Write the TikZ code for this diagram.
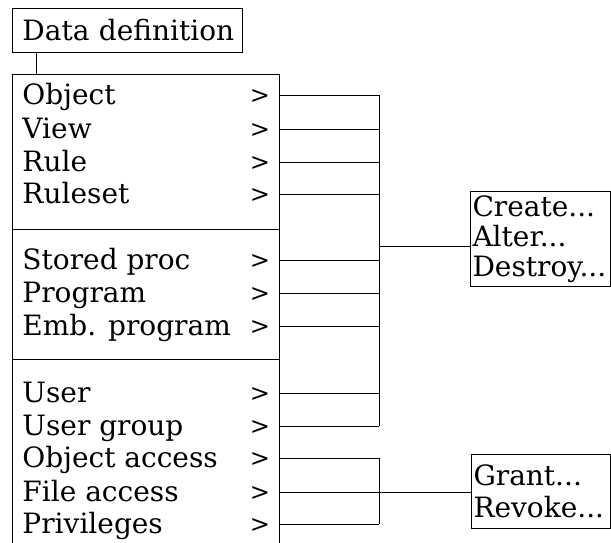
\documentclass[tikz,border=0pt]{standalone}
\usepackage{fontspec}
\setmainfont{DejaVu Serif}
\usetikzlibrary{positioning, calc}
\tikzset{
    marco/.style={rectangle, draw=black, line width=1pt, inner sep=0pt},
    texto/.style={font=\fontsize{28}{33}\selectfont, inner sep=0pt},
    opcion/.style={texto, anchor=base west},
    marca/.style={texto, anchor=base, font=\fontsize{24}{33}\selectfont},
    conexion/.style={coordinate}}

\begin{document}
\begin{tikzpicture}[x=1pt, y=-1pt, line width=1pt]
    \clip (0,0) rectangle (611,542);
    % menu principal
    \node (titulo) [marco, texto, anchor=north west, minimum width=230pt,
        minimum height=44pt, text width=210pt, align=left] at (12,8)
        {\mbox{Data definition}};
    \node (menu) [marco, anchor=north west, minimum width=267pt,
        minimum height=490pt] at (12,74) {};
    \draw (titulo.south -| 36,0) -- (menu.north -| 36,0);
    \draw (menu.west |- 0,229) -- (menu.east |- 0,229);
    \draw (menu.west |- 0,359) -- (menu.east |- 0,359);

    \foreach \y/\t/\n in {95/Object/obj, 129/View/vis, 162/Rule/reg,
        194/Ruleset/rset, 260/Stored proc/proc, 293/Program/prog,
        326/Emb. program/emb, 393/User/usr, 426/User group/grp,
        458/Object access/oacc, 492/File access/facc, 524/Privileges/priv}{
        \node (t-\n) [opcion] at (22,\y+9) {\t};
        \node (m-\n) [marca] at (260,\y+8) {>};
        \coordinate (s-\n) at (279,\y);
        \coordinate (b-\n) at (379,\y);
        \draw (s-\n) -- (b-\n);
    }

    % submenus
    \node (acciones) [marco, anchor=north west, minimum width=140pt,
        minimum height=95pt, text width=136pt, align=left,
        font=\fontsize{28}{30}\selectfont] at (470,191)
        {Create...\\Alter...\\Destroy...};
    \node (permisos) [marco, anchor=north west, minimum width=139pt,
        minimum height=74pt, text width=135pt, align=left,
        font=\fontsize{28}{32}\selectfont] at (471,454)
        {Grant...\\Revoke...};

    \draw (b-obj) -- (b-grp);
    \coordinate (union) at (379,246);
    \draw (union) -- (union -| acciones.west);
    \draw (b-oacc) -- (b-priv);
    \draw (b-facc) -- (b-facc -| permisos.west);
\end{tikzpicture}
\end{document}
